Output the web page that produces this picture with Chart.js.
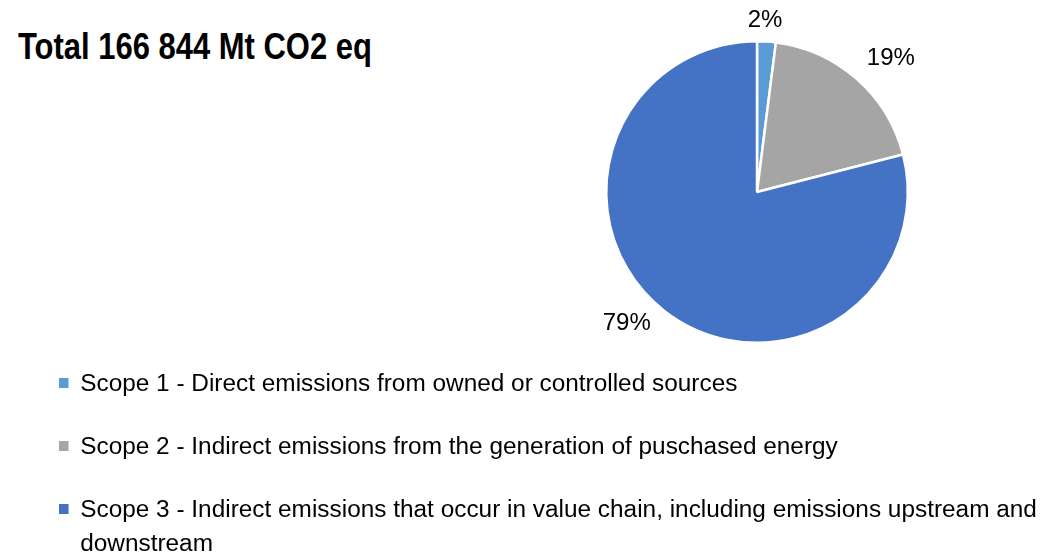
<!DOCTYPE html>
<html>
<head>
<meta charset="utf-8">
<script src="https://cdn.jsdelivr.net/npm/chart.js@4.4.1/dist/chart.umd.min.js"></script>
<style>
  body { margin: 0; background: #fff; width: 1041px; height: 555px; overflow: hidden; position: relative; font-family: "Liberation Sans", Arial, sans-serif; }
  #title { position: absolute; left: 18px; top: 26px; font-size: 36px; font-weight: bold; color: #000; white-space: nowrap; transform: scaleX(0.86); transform-origin: left top; }
  #pieBox { position: absolute; left: 557px; top: 0px; width: 400px; height: 384px; }
  #legend { position: absolute; left: 59px; top: 366px; width: 930px; transform: scaleX(1.06); transform-origin: left top; }
  .item { position: relative; padding-left: 20px; font-size: 23px; color: #000; line-height: 34px; margin-bottom: 29px; }
  .item span.sw { position: absolute; left: 0; top: 12px; width: 9px; height: 10px; }
</style>
</head>
<body>
<div id="title">Total 166 844 Mt CO2 eq</div>
<div id="pieBox"><canvas id="pie"></canvas></div>
<div id="legend"></div>
<script>
// data
var scopes = [
  "Scope 1 - Direct emissions from owned or controlled sources",
  "Scope 2 - Indirect emissions from the generation of puschased energy",
  "Scope 3 - Indirect emissions that occur in value chain, including emissions upstream and downstream"
];
var shares = [2, 19, 79];
var colors = ["#5B9BD5", "#A5A5A5", "#4472C4"];

// little nudges so the labels sit where Excel put them
var labelGap = [24, 38, 34];
var labelNudge = [[-3, 3], [9, 8], [-17, -15]];

// legend in html
var legend = document.getElementById("legend");
scopes.forEach(function(s, i){
  var d = document.createElement("div");
  d.className = "item";
  d.innerHTML = '<span class="sw" style="background:' + colors[i] + '"></span>' + s;
  legend.appendChild(d);
});

var outsideLabels = {
  id: "outsideLabels",
  afterDatasetsDraw: function(chart){
    var ctx = chart.ctx;
    var meta = chart.getDatasetMeta(0);
    ctx.save();
    ctx.font = "24px 'Liberation Sans', Arial, sans-serif";
    ctx.fillStyle = "#000";
    ctx.textAlign = "center";
    ctx.textBaseline = "middle";
    meta.data.forEach(function(arc, i){
      var mid = (arc.startAngle + arc.endAngle) / 2;
      var r = arc.outerRadius + labelGap[i];
      var x = arc.x + Math.cos(mid) * r + labelNudge[i][0];
      var y = arc.y + Math.sin(mid) * r + labelNudge[i][1];
      ctx.fillText(shares[i] + "%", x, y);
    });
    ctx.restore();
  }
};

new Chart(document.getElementById("pie"), {
  type: "pie",
  data: {
    labels: scopes,
    datasets: [{
      data: shares,
      backgroundColor: colors,
      borderColor: "#fff",
      borderWidth: 2.5
    }]
  },
  options: {
    responsive: true,
    maintainAspectRatio: false,
    animation: false,
    layout: { padding: { left: 48, right: 48, top: 40, bottom: 40 } },
    plugins: {
      legend: { display: false },
      tooltip: { enabled: false }
    }
  },
  plugins: [outsideLabels]
});
</script>
</body>
</html>
